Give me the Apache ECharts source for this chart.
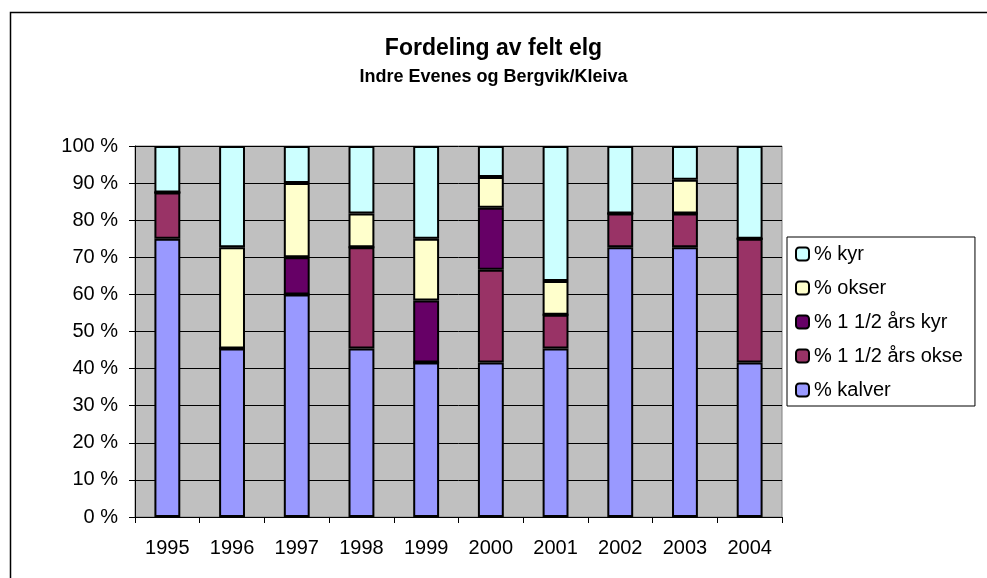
<!DOCTYPE html>
<html>
<head>
    <meta charset="UTF-8">
    <title>Fordeling av felt elg</title>
    <style>
        * {
            margin: 0;
            padding: 0
        }

        #chart {
            width: 987px;
            height: 578px;
        }
    </style>
</head>
<body>
<div id="chart"></div>
<script type="text/javascript" src="https://cdn.jsdelivr.net/npm/echarts@6/dist/echarts.min.js"></script>
<script type="text/javascript">
    // år langs x-aksen
    var years = ['1995', '1996', '1997', '1998', '1999', '2000', '2001', '2002', '2003', '2004'];
    // andeler i prosent, lest av figuren
    var kalver = [75, 45.45, 60, 45.45, 41.67, 41.67, 45.45, 72.73, 72.73, 41.67];
    var okse15 = [12.5, 0, 0, 27.27, 0, 25, 9.09, 9.09, 9.09, 33.33];
    var kyr15 = [0, 0, 10, 0, 16.67, 16.67, 0, 0, 0, 0];
    var okser = [0, 27.27, 20, 9.09, 16.67, 8.33, 9.09, 0, 9.09, 0];
    var kyr = [12.5, 27.28, 10, 18.19, 24.99, 8.33, 36.37, 18.18, 9.09, 25];
    var yTicks = [0, 100, 10];

    var font = 'Arial, "Liberation Sans", sans-serif';
    var myEcharts = echarts.init(document.getElementById('chart'));

    function bar(name, data, color) {
        return {
            name: name,
            type: 'bar',
            stack: 'tot',
            barWidth: '40%',
            data: data,
            itemStyle: {
                color: color,
                borderColor: '#000',
                borderWidth: 2
            }
        };
    }

    var option = {
        animation: false,
        backgroundColor: '#fff',
        title: {
            text: 'Fordeling av felt elg',
            subtext: 'Indre Evenes og Bergvik/Kleiva',
            left: 'center',
            top: 32,
            itemGap: 8,
            textStyle: {
                fontFamily: font,
                fontWeight: 'bold',
                fontSize: 23,
                color: '#000'
            },
            subtextStyle: {
                fontFamily: font,
                fontWeight: 'bold',
                fontSize: 18,
                color: '#000'
            }
        },
        graphic: [{
            type: 'rect',
            shape: {x: 10.5, y: 12.5, width: 1000, height: 600},
            style: {fill: 'none', stroke: '#000', lineWidth: 1.5},
            silent: true
        }],
        legend: {
            orient: 'vertical',
            left: 787,
            top: 237,
            padding: [7, 12, 6, 8],
            itemWidth: 13,
            itemHeight: 13,
            itemGap: 14,
            backgroundColor: '#fff',
            borderColor: '#000',
            borderWidth: 1,
            borderRadius: 0,
            textStyle: {
                fontFamily: font,
                fontSize: 20,
                color: '#000'
            },
            data: ['% kyr', '% okser', '% 1 1/2 års kyr', '% 1 1/2 års okse', '% kalver']
        },
        grid: {
            left: 135,
            right: 205,
            top: 146,
            bottom: 61,
            show: true,
            backgroundColor: '#C0C0C0',
            borderColor: '#808080',
            borderWidth: 1
        },
        xAxis: {
            type: 'category',
            data: years,
            axisLine: {lineStyle: {color: '#000', width: 1}},
            axisTick: {show: true, length: 6, lineStyle: {color: '#000'}},
            axisLabel: {
                fontFamily: font,
                fontSize: 20,
                color: '#000',
                margin: 21
            }
        },
        yAxis: {
            type: 'value',
            min: yTicks[0],
            max: yTicks[1],
            interval: yTicks[2],
            axisLine: {show: true, lineStyle: {color: '#000', width: 1}},
            axisTick: {show: true, length: 6, lineStyle: {color: '#000'}},
            splitLine: {lineStyle: {color: '#000', width: 1}},
            axisLabel: {
                fontFamily: font,
                fontSize: 20,
                color: '#000',
                margin: 17,
                formatter: '{value} %'
            }
        },
        series: [
            bar('% kalver', kalver, '#9999FF'),
            bar('% 1 1/2 års okse', okse15, '#993366'),
            bar('% 1 1/2 års kyr', kyr15, '#660066'),
            bar('% okser', okser, '#FFFFCC'),
            bar('% kyr', kyr, '#CCFFFF')
        ]
    };

    myEcharts.setOption(option);
</script>
</body>
</html>
